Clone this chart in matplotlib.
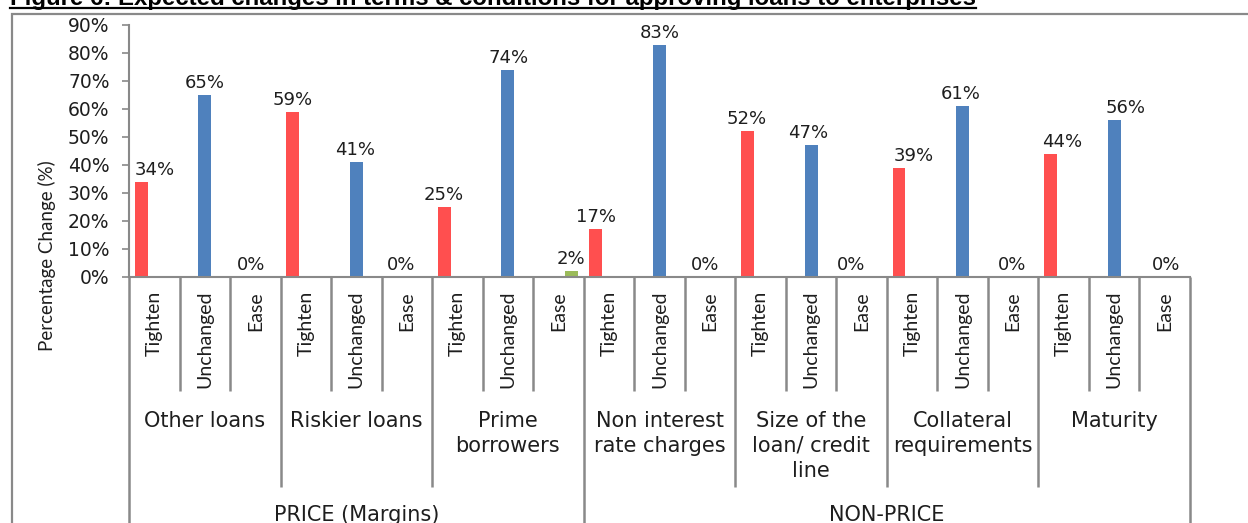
import matplotlib
matplotlib.use("Agg")
import matplotlib.pyplot as plt
from matplotlib.lines import Line2D
from matplotlib.patches import Rectangle

title = "Figure 6: Expected changes in terms & conditions for approving loans to enterprises"
responses = ["Tighten", "Unchanged", "Ease"]
groups = ["Other loans", "Riskier loans", "Prime\nborrowers", "Non interest\nrate charges",
          "Size of the\nloan/ credit\nline", "Collateral\nrequirements", "Maturity"]
sections = ["PRICE (Margins)", "NON-PRICE"]
section_sizes = [3, 4]

tighten = [34, 59, 25, 17, 52, 39, 44]
unchanged = [65, 41, 74, 83, 47, 61, 56]
ease = [0, 0, 2, 0, 0, 0, 0]

colors = ["#FF4F4F", "#4F81BD", "#9BBB59"]
grey = "#898989"
txt = "#1e1e1e"

# small label nudges (in slot units), reading the reference placement
label_shift = [0, 0, -0.08, -0.27, -0.03, -0.12, -0.27, 0.02, 0.25, -0.26, 0,
               -0.1, -0.27, -0.06, -0.21, 0.04, -0.03, -0.02, -0.03, 0.22, 0.02]

W, H = 1248, 523
fig = plt.figure(figsize=(W / 100, H / 100), dpi=100)
ax = fig.add_axes([129 / W, 1 - 277 / H, (1190 - 129) / W, (277 - 25) / H])

n = len(groups) * 3
series = [tighten, unchanged, ease]
bw = 0.26
for k, vals in enumerate(series):
    xs = [3 * g + k + (k - 1) * bw for g in range(len(groups))]
    ax.bar(xs, vals, width=bw * 0.98, color=colors[k], linewidth=0)

# value labels
for g in range(len(groups)):
    for k, vals in enumerate(series):
        i = 3 * g + k
        ax.annotate(f"{vals[g]}%", (i + label_shift[i], vals[g]), xytext=(0, 5),
                    textcoords="offset points", ha="center", va="baseline",
                    fontsize=13, color=txt)

ax.set_xlim(-0.5, n - 0.5)
ax.set_ylim(0, 90)
ax.set_yticks(range(0, 91, 10))
ax.set_yticklabels([f"{v}%" for v in range(0, 91, 10)])
ax.set_xticks([])
ax.tick_params(axis="y", length=5, width=1.2, color=grey, labelsize=13.5, pad=9, labelcolor=txt)
for s in ["top", "right"]:
    ax.spines[s].set_visible(False)
for s in ["left", "bottom"]:
    ax.spines[s].set_color(grey)
    ax.spines[s].set_linewidth(1.5)

# multi-level category axis
tr = ax.get_xaxis_transform()
def ypx(p):
    return -(p - 277) / 252

ends_section = [0, 9, 21]
for b in range(n + 1):
    if b in ends_section:
        y_end = ypx(540)
    elif b % 3 == 0:
        y_end = ypx(487)
    else:
        y_end = ypx(391)
    ax.plot([b - 0.5, b - 0.5], [0, y_end], transform=tr, color=grey, lw=1.8,
            clip_on=False, solid_capstyle="butt")

for i in range(n):
    ax.text(i, ypx(291), responses[i % 3], transform=tr, rotation=90, ha="center",
            va="top", family="Lato", fontsize=14, color=txt)

for g, name in enumerate(groups):
    ax.text(3 * g + 1, ypx(411), name, transform=tr, ha="center", va="top",
            fontsize=15, color=txt, linespacing=1.3)

start = 0
for name, size in zip(sections, section_sizes):
    mid = (start + start + 3 * size) / 2 - 0.5
    ax.text(mid, ypx(505), name, transform=tr, ha="center", va="top",
            fontsize=15, color=txt)
    start += 3 * size

fig.text(47 / W, 1 - 256 / H, "Percentage Change (%)", rotation=90, ha="center",
         va="center", family="Lato", fontsize=13.5, color=txt)

# outer chart frame
fig.patches.append(Rectangle((12 / W, -0.1), 1.1, 1 - 14 / H + 0.1, transform=fig.transFigure,
                             fill=False, ec=grey, lw=1.6))

# title, cut off at the top edge as in the source, underlined
t = fig.text(10 / W, 1 - 4.5 / H, title, fontweight="bold", family="Liberation Sans",
             fontsize=14, va="baseline", color="black")
r = fig.canvas.get_renderer()
w = t.get_window_extent(r).width
t.set_fontsize(14 * 970 / w)
w = t.get_window_extent(r).width
fig.add_artist(Line2D([10 / W, (10 + w) / W], [1 - 8 / H, 1 - 8 / H], transform=fig.transFigure,
                      color="black", lw=1.6))

fig.savefig("out.png", dpi=100)
